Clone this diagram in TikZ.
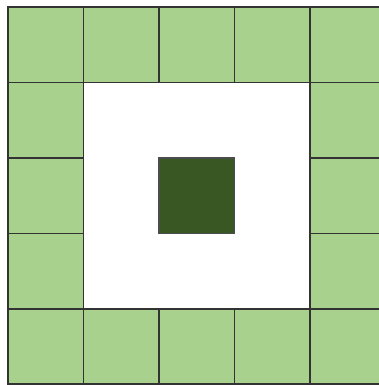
\documentclass[tikz,border=0pt]{standalone}
\usepackage{tikz}
\definecolor{lightgreen}{HTML}{A9D18E}
\definecolor{darkgreen}{HTML}{385723}

\begin{document}
\begin{tikzpicture}[x=1cm, y=1cm,
  cell/.style={draw=black!80, fill=lightgreen, line width=0.6pt, minimum size=1cm, inner sep=0pt, outer sep=0pt, anchor=south west},
  core/.style={draw=black!70, fill=darkgreen, line width=0.6pt, minimum size=1cm, inner sep=0pt, outer sep=0pt, anchor=south west}]
\useasboundingbox (-0.106,-0.01) rectangle (4.907,5.093);
% outer ring of cells
\foreach \i in {0,...,4} {
  \node[cell] (b\i) at (\i,0) {};
  \node[cell] (t\i) at (\i,4) {};
}
\foreach \j in {1,2,3} {
  \node[cell] (l\j) at (0,\j) {};
  \node[cell] (r\j) at (4,\j) {};
}
% centre
\node[core] (c) at (2,2) {};
\end{tikzpicture}
\end{document}
